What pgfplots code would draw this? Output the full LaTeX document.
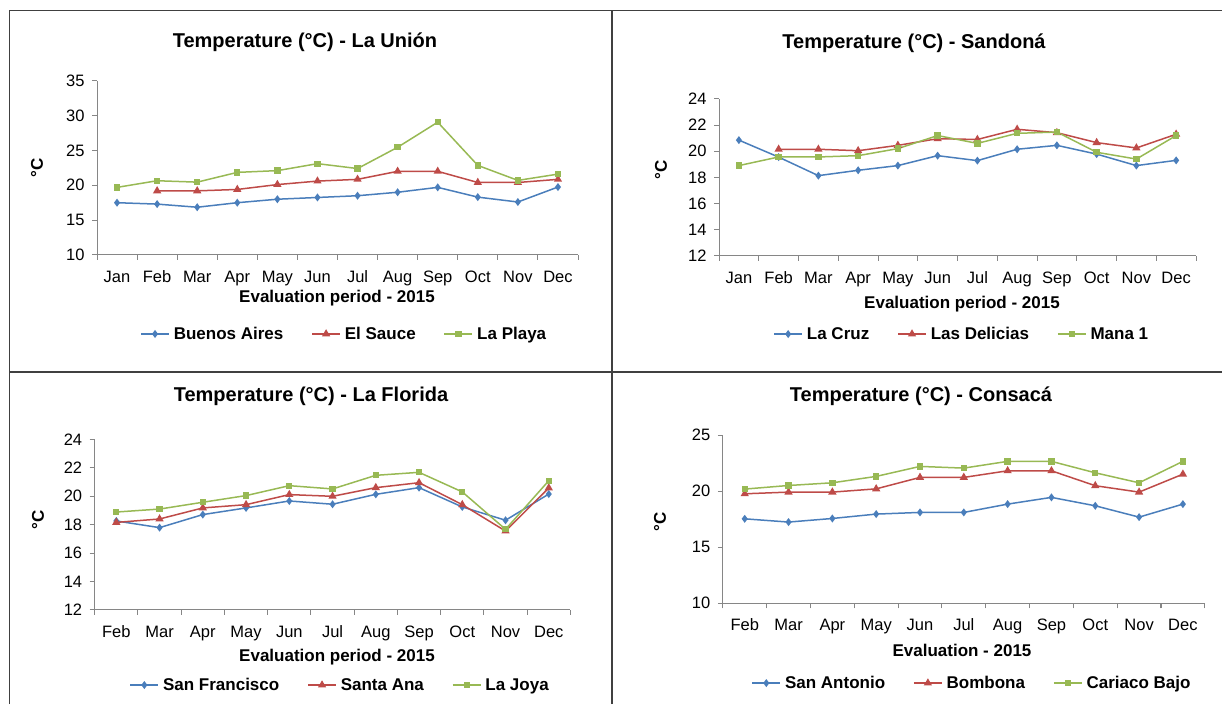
\documentclass[border=0pt]{standalone}
\usepackage{pgfplots}
\pgfplotsset{compat=1.18}
\usepackage{fontspec}
\setmainfont{Liberation Sans}
\definecolor{cb}{HTML}{4A7EBB}
\definecolor{cr}{HTML}{BE4B48}
\definecolor{cg}{HTML}{98B954}
\definecolor{axg}{HTML}{868686}
\definecolor{brd}{HTML}{404040}
\newcommand{\tfont}{\fontsize{20}{20}\selectfont\bfseries}
\newcommand{\lfont}{\fontsize{17}{17}\selectfont\bfseries}
\newcommand{\kfont}{\fontsize{16.5}{16.5}\selectfont}
\pgfplotsset{
 panel/.style={
  scale only axis,
  axis x line*=bottom, axis y line*=left,
  axis line style={axg, line width=1pt, -},
  tick style={axg, line width=1pt},
  tick align=outside,
  major tick length=5pt,
  xticklabels={},
  extra x tick style={major tick length=0pt, tick style={draw=none},
     xticklabel style={yshift=-12pt, text height=12pt, text depth=3.5pt}},
  ticklabel style={font=\kfont, text=black},
  yticklabel style={xshift=-4pt},
  /pgf/number format/assume math mode=true,
  legend style={draw=none, fill=none, legend columns=3, font=\lfont, anchor=center,
    /tikz/every even column/.append style={column sep=26pt},
    /tikz/every odd column/.append style={column sep=2pt}},
  legend image code/.code={\draw[mark repeat=2,mark phase=2] plot coordinates {(0pt,0pt)(14pt,0pt)(28pt,0pt)};},
  every axis plot/.append style={line width=1.5pt},
 },
 sb/.style={cb, mark=diamond*, mark size=2.8pt, mark options={solid}},
 sr/.style={cr, mark=triangle*, mark size=3.3pt, mark options={solid}},
 sg/.style={cg, mark=square*, mark size=2.4pt, mark options={solid}},
}
\begin{document}
\begin{tikzpicture}[x=1pt,y=1pt]
\useasboundingbox (0,0) rectangle (1222,704);
% borders
\draw[brd, line width=1.5pt] (9.5,0) -- (9.5,693.5) -- (1222,693.5);
\draw[brd, line width=1.5pt] (612,0) -- (612,693.5);
\draw[brd, line width=1.5pt] (9.5,332) -- (1222,332);

% ---------- Panel 1: La Union ----------
\begin{axis}[panel, at={(97pt,449pt)}, anchor=south west, width=481pt, height=174.3pt,
  xmin=0.5, xmax=12.5, ymin=10, ymax=35, ytick={10,15,...,35},
  xtick={0.5,1.5,...,12.5},
  extra x ticks={1,...,12},
  extra x tick labels={Jan,Feb,Mar,Apr,May,Jun,Jul,Aug,Sep,Oct,Nov,Dec},
  legend style={at={(axis description cs:0.514,-0.453)}}]
\addplot[sb] coordinates {(1,17.5)(2,17.3)(3,16.85)(4,17.5)(5,18.0)(6,18.25)(7,18.5)(8,19.0)(9,19.7)(10,18.3)(11,17.6)(12,19.75)};
\addplot[sr] coordinates {(2,19.2)(3,19.2)(4,19.4)(5,20.1)(6,20.6)(7,20.85)(8,22.0)(9,22.0)(10,20.4)(11,20.4)(12,20.85)};
\addplot[sg] coordinates {(1,19.7)(2,20.65)(3,20.45)(4,21.85)(5,22.1)(6,23.1)(7,22.4)(8,25.45)(9,29.05)(10,22.85)(11,20.7)(12,21.6)};
\legend{Buenos Aires,El Sauce,La Playa}
\end{axis}
\node[font=\tfont] at (305,662) {Temperature (°C) - La Unión};
\node[font=\lfont] at (337,406) {Evaluation period - 2015};
\node[font=\lfont, rotate=90] at (37,536) {°C};

% ---------- Panel 2: Sandona ----------
\begin{axis}[panel, at={(719pt,448.3pt)}, anchor=south west, width=477pt, height=156.7pt,
  xmin=0.5, xmax=12.5, ymin=12, ymax=24, ytick={12,14,...,24},
  xtick={0.5,1.5,...,12.5},
  extra x ticks={1,...,12},
  extra x tick labels={Jan,Feb,Mar,Apr,May,Jun,Jul,Aug,Sep,Oct,Nov,Dec},
  legend style={at={(axis description cs:0.509,-0.5)}}]
\addplot[sb] coordinates {(1,20.85)(2,19.55)(3,18.13)(4,18.54)(5,18.9)(6,19.66)(7,19.28)(8,20.15)(9,20.45)(10,19.78)(11,18.9)(12,19.3)};
\addplot[sr] coordinates {(2,20.15)(3,20.15)(4,20.04)(5,20.45)(6,20.96)(7,20.9)(8,21.68)(9,21.42)(10,20.66)(11,20.25)(12,21.3)};
\addplot[sg] coordinates {(1,18.9)(2,19.56)(3,19.56)(4,19.66)(5,20.2)(6,21.2)(7,20.6)(8,21.37)(9,21.47)(10,19.92)(11,19.4)(12,21.2)};
\legend{La Cruz,Las Delicias,Mana 1}
\end{axis}
\node[font=\tfont] at (914,661) {Temperature (°C) - Sandoná};
\node[font=\lfont] at (962,400) {Evaluation period - 2015};
\node[font=\lfont, rotate=90] at (661,534) {°C};

% ---------- Panel 3: La Florida ----------
\begin{axis}[panel, at={(94.7pt,94.3pt)}, anchor=south west, width=475.7pt, height=170.1pt,
  xmin=0.5, xmax=11.5, ymin=12, ymax=24, ytick={12,14,...,24},
  xtick={0.5,1.5,...,11.5},
  extra x ticks={1,...,11},
  extra x tick labels={Feb,Mar,Apr,May,Jun,Jul,Aug,Sep,Oct,Nov,Dec},
  legend style={at={(axis description cs:0.516,-0.443)}}]
\addplot[sb] coordinates {(1,18.26)(2,17.79)(3,18.71)(4,19.18)(5,19.67)(6,19.44)(7,20.14)(8,20.61)(9,19.25)(10,18.31)(11,20.16)};
\addplot[sr] coordinates {(1,18.16)(2,18.4)(3,19.18)(4,19.41)(5,20.12)(6,20.0)(7,20.61)(8,20.96)(9,19.41)(10,17.55)(11,20.59)};
\addplot[sg] coordinates {(1,18.89)(2,19.1)(3,19.58)(4,20.05)(5,20.75)(6,20.52)(7,21.48)(8,21.69)(9,20.31)(10,17.67)(11,21.1)};
\legend{San Francisco,Santa Ana,La Joya}
\end{axis}
\node[font=\tfont] at (311,308) {Temperature (°C) - La Florida};
\node[font=\lfont] at (337,47) {Evaluation period - 2015};
\node[font=\lfont, rotate=90] at (38,184) {°C};

% ---------- Panel 4: Consaca ----------
\begin{axis}[panel, at={(722.8pt,100.7pt)}, anchor=south west, width=482pt, height=168.3pt,
  xmin=0.5, xmax=11.5, ymin=10, ymax=25, ytick={10,15,...,25},
  xtick={0.5,1.5,...,11.5},
  extra x ticks={1,...,11},
  extra x tick labels={Feb,Mar,Apr,May,Jun,Jul,Aug,Sep,Oct,Nov,Dec},
  legend style={at={(axis description cs:0.517,-0.474)}}]
\addplot[sb] coordinates {(1,17.53)(2,17.24)(3,17.56)(4,17.95)(5,18.1)(6,18.1)(7,18.84)(8,19.44)(9,18.69)(10,17.68)(11,18.84)};
\addplot[sr] coordinates {(1,19.76)(2,19.91)(3,19.91)(4,20.2)(5,21.22)(6,21.22)(7,21.81)(8,21.81)(9,20.48)(10,19.91)(11,21.51)};
\addplot[sg] coordinates {(1,20.18)(2,20.5)(3,20.74)(4,21.31)(5,22.2)(6,22.05)(7,22.65)(8,22.65)(9,21.63)(10,20.74)(11,22.65)};
\legend{San Antonio,Bombona,Cariaco Bajo}
\end{axis}
\node[font=\tfont] at (921,308) {Temperature (°C) - Consacá};
\node[font=\lfont] at (962,54) {Evaluation - 2015};
\node[font=\lfont, rotate=90] at (660,182) {°C};
\end{tikzpicture}
\end{document}
